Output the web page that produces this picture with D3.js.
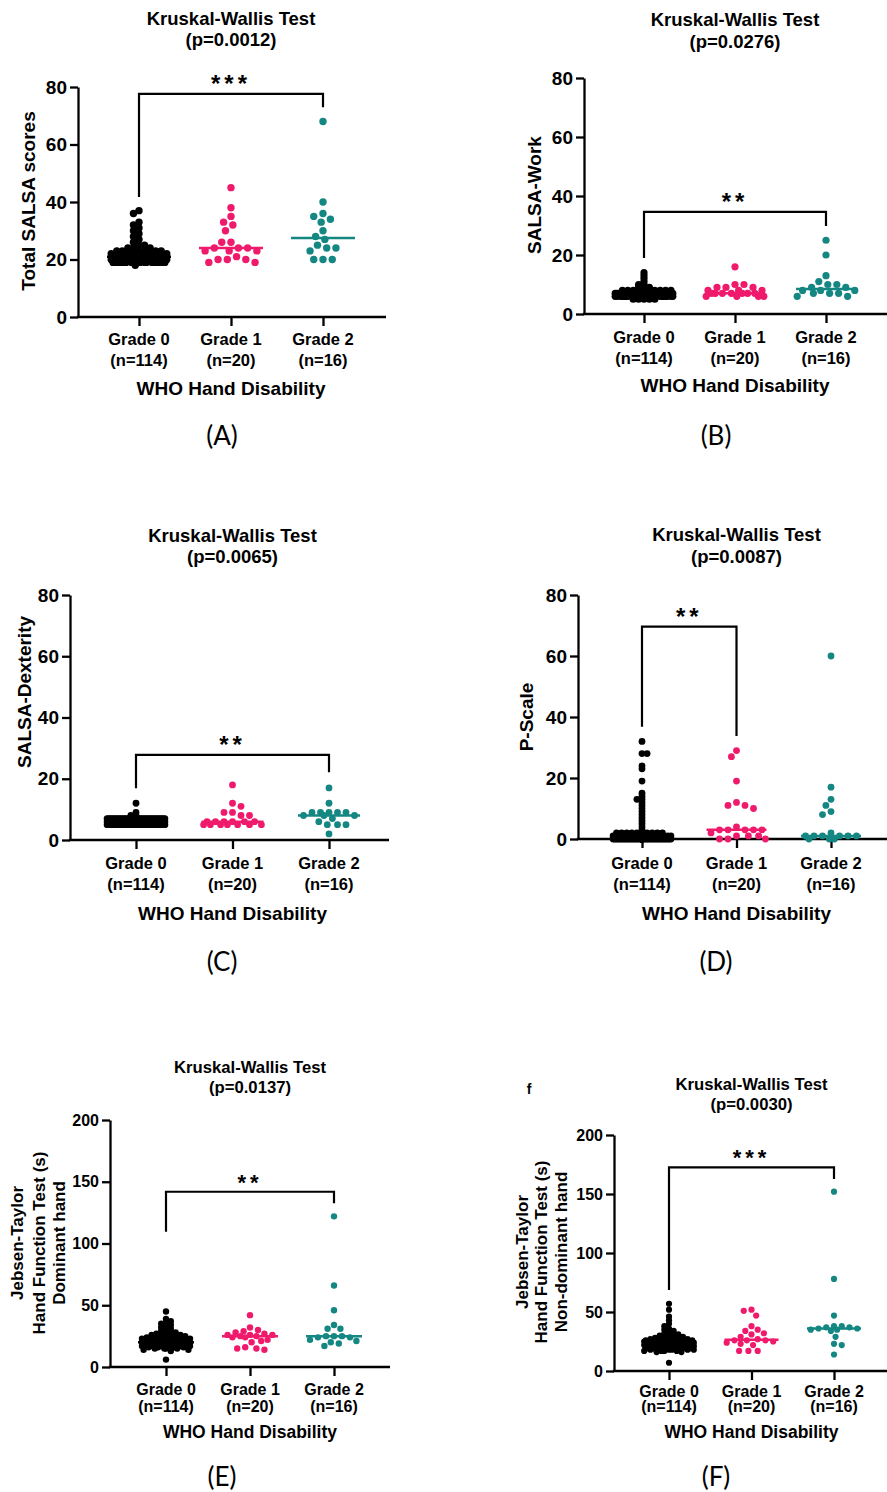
<!DOCTYPE html>
<meta charset="utf-8">

<head>
    <title>SALSA and Jebsen-Taylor scores by WHO hand disability grade</title>
    <script src="https://cdn.jsdelivr.net/npm/d3@7"></script>
    <style>
        body {
            margin: 0;
            background-color: white;
        }

        #svg {
            display: block;
            font-family: "Liberation Sans", Arial, sans-serif;
        }

        .bold {
            font-weight: bold;
        }

        .letter {
            font-family: Lato, "Open Sans", sans-serif;
        }
    </style>
</head>

<body>
    <svg id="svg" width="887" height="1492"></svg>

    <script>
        // categories shared by every panel
        const grades = ['Grade 0', 'Grade 1', 'Grade 2']
        const gradeN = ['(n=114)', '(n=20)', '(n=16)']
        const gradeColors = ['#000000', '#f01a6c', '#158782']

        const pValues = ['(p=0.0012)', '(p=0.0276)', '(p=0.0065)', '(p=0.0087)', '(p=0.0137)', '(p=0.0030)']
        const yTitles = [
            ['Total SALSA scores'],
            ['SALSA-Work'],
            ['SALSA-Dexterity'],
            ['P-Scale'],
            ['Jebsen-Taylor', 'Hand Function Test (s)', 'Dominant hand'],
            ['Jebsen-Taylor', 'Hand Function Test (s)', 'Non-dominant hand']
        ]
        const panelLetters = ['(A)', '(B)', '(C)', '(D)', '(E)', '(F)']
        const yMax = [80, 80, 80, 80, 200, 200]
        const yTicksSmall = [0, 20, 40, 60, 80]
        const yTicksLarge = [0, 50, 100, 150, 200]

        // brackets: [from group, to group, top value, left leg end, right leg end, stars]
        const bracketA = [0, 2, 77.6, 41.7, 73, '***']
        const bracketB = [0, 2, 34.6, 19, 29.8, '**']
        const bracketC = [0, 2, 27.8, 16.9, 22.1, '**']
        const bracketD = [0, 1, 69.6, 36.8, 33.8, '**']
        const bracketE = [0, 2, 141.9, 109.6, 132.6, '**']
        const bracketF = [0, 2, 172.6, 68.6, 162.7, '***']

        // (A) total SALSA scores
        const totalG0 = [37, 36, 33, 32, 31, 30, 29, 28, 27, 26, 25, 25, 24, 24, 24,
            23, 23, 23, 23, 23, 23,
            22, 22, 22, 22, 22, 22, 22, 22, 22, 22, 22, 22, 22, 22, 22,
            21, 21, 21, 21, 21, 21, 21, 21, 21, 21, 21, 21, 21, 21, 21, 21, 21, 21, 21, 21, 21, 21, 21, 21, 21, 21,
            20, 20, 20, 20, 20, 20, 20, 20, 20, 20, 20, 20, 20, 20, 20, 20, 20, 20, 20, 20, 20, 20, 20, 20, 20, 20, 20,
            19, 19, 19, 19, 19, 19, 19, 19, 19, 19, 19, 19, 19, 19, 19, 19, 19, 19, 19, 19, 19, 19, 19, 19,
            18]
        const totalG1 = [45, 38, 35, 33, 32, 30, 26, 26, 24, 24, 24, 23, 23, 23, 20, 20, 21, 20, 19, 19]
        const totalG2 = [68, 40, 36, 35, 34, 33, 30, 28, 27, 25, 24, 24, 23, 20, 20, 20]

        // (B) SALSA work
        const workG0 = [14, 13, 12, 11, 10, 10, 9, 9, 9,
            8, 8, 8, 8, 8, 8, 8, 8, 8, 8,
            7, 7, 7, 7, 7, 7, 7, 7, 7, 7, 7, 7, 7, 7, 7, 7, 7, 7, 7, 7, 7, 7, 7, 7, 7, 7, 7, 7, 7, 7, 7, 7, 7,
            7, 7, 7, 7, 7, 7, 7, 7, 7, 7, 7, 7, 7, 7, 7, 7, 7, 7, 7, 7, 7, 7, 7, 7, 7, 7, 7, 7, 7, 7, 7, 7,
            6, 6, 6, 6, 6, 6, 6, 6, 6, 6, 6, 6, 6, 6, 6, 6, 6, 6, 6, 6, 6, 6, 6, 6, 6,
            5, 5, 5, 5, 5]
        const workG1 = [16, 10, 10, 9, 9, 9, 8, 8, 8, 7, 7, 7, 7, 7, 7, 7, 6, 6, 6, 6]
        const workG2 = [25, 20, 13, 11, 10, 10, 9, 9, 8, 8, 8, 7, 7, 7, 6, 6]

        // (C) SALSA dexterity
        const dextG0 = [12, 9, 8, 8,
            7, 7, 7, 7, 7, 7, 7, 7, 7, 7, 7, 7, 7, 7, 7, 7, 7, 7, 7, 7, 7, 7, 7, 7, 7, 7, 7, 7, 7, 7, 7, 7, 7, 7, 7,
            6, 6, 6, 6, 6, 6, 6, 6, 6, 6, 6, 6, 6, 6, 6, 6, 6, 6, 6, 6, 6, 6, 6, 6, 6, 6, 6, 6, 6, 6, 6, 6, 6, 6, 6, 6, 6, 6, 6, 6,
            5, 5, 5, 5, 5, 5, 5, 5, 5, 5, 5, 5, 5, 5, 5, 5, 5, 5, 5, 5, 5, 5, 5, 5, 5, 5, 5, 5, 5, 5, 5, 5, 5, 5, 5]
        const dextG1 = [18, 12, 11, 9, 9, 8, 8, 6, 6, 6, 6, 6, 6, 5, 5, 5, 5, 5, 5, 5]
        const dextG2 = [17, 12, 9, 9, 9, 9, 9, 8, 8, 8, 7, 6, 5, 5, 5, 2]

        // (D) P-scale
        const pscaleG0 = [32, 28, 28, 24, 23, 19, 15, 14, 13, 13, 12, 11, 10, 9, 8, 7, 6, 5, 4, 3,
            2, 2, 2, 2, 2, 2, 2, 2, 2, 2,
            1, 1, 1, 1, 1, 1, 1, 1, 1, 1, 1, 1, 1, 1, 1, 1, 1, 1, 1, 1, 1, 1, 1, 1, 1, 1, 1, 1, 1, 1,
            0, 0, 0, 0, 0, 0, 0, 0, 0, 0, 0, 0, 0, 0, 0, 0, 0, 0, 0, 0, 0, 0, 0, 0, 0, 0, 0,
            0, 0, 0, 0, 0, 0, 0, 0, 0, 0, 0, 0, 0, 0, 0, 0, 0, 0, 0, 0, 0, 0, 0, 0, 0, 0, 0]
        const pscaleG1 = [29, 27, 19, 12, 11, 11, 10, 4, 3, 3, 3, 3, 3, 2, 1, 1, 1, 0, 0, 0]
        const pscaleG2 = [60, 17, 13, 11, 9, 8, 2, 1, 1, 1, 1, 1, 1, 0, 0, 0]

        // (E) Jebsen-Taylor dominant hand
        const domG0 = [45, 39, 37, 36, 35, 34, 33, 32, 31, 30, 29, 28, 28, 27, 27, 26, 26, 26, 25, 25, 25, 24, 24, 24,
            23, 23, 23, 23, 23,
            22, 22, 22, 22, 22, 22, 22, 22,
            21, 21, 21, 21, 21, 21, 21, 21, 21, 21, 21, 21,
            20, 20, 20, 20, 20, 20, 20, 20, 20, 20, 20, 20, 20, 20,
            19, 19, 19, 19, 19, 19, 19, 19, 19, 19, 19, 19, 19, 19,
            18, 18, 18, 18, 18, 18, 18, 18, 18, 18, 18, 18, 18,
            17, 17, 17, 17, 17, 17, 17, 17, 17, 17,
            16, 16, 16, 16, 16, 16, 15, 15, 15, 15, 14, 14, 13, 6]
        const domG1 = [42, 32, 30, 29, 28, 27, 26, 26, 26, 25, 25, 24, 24, 22, 21, 20, 16, 15, 15, 14]
        const domG2 = [122, 66, 46, 34, 31, 31, 25, 25, 25, 24, 24, 22, 21, 20, 19, 17]

        // (F) Jebsen-Taylor non-dominant hand
        const nondomG0 = [57, 52, 46, 43, 40, 38, 36, 35, 34, 33, 32, 31, 31, 30, 30, 29, 29, 28, 28, 28,
            27, 27, 27, 27, 26, 26, 26, 26, 26, 26,
            25, 25, 25, 25, 25, 25, 25, 25, 25, 25,
            24, 24, 24, 24, 24, 24, 24, 24, 24, 24, 24, 24,
            23, 23, 23, 23, 23, 23, 23, 23, 23, 23, 23, 23,
            22, 22, 22, 22, 22, 22, 22, 22, 22, 22, 22, 22,
            21, 21, 21, 21, 21, 21, 21, 21, 21, 21,
            20, 20, 20, 20, 20, 20, 20, 20, 20,
            19, 19, 19, 19, 19, 19, 19,
            18, 18, 18, 18, 18, 17, 17, 17, 17, 16, 16, 7]
        const nondomG1 = [52, 51, 47, 38, 35, 34, 32, 31, 29, 27, 26, 26, 26, 25, 24, 23, 22, 17, 17, 17]
        const nondomG2 = [152, 78, 47, 38, 38, 37, 37, 36, 36, 35, 35, 34, 29, 23, 22, 14]

        const panelData = [
            [totalG0, totalG1, totalG2],
            [workG0, workG1, workG2],
            [dextG0, dextG1, dextG2],
            [pscaleG0, pscaleG1, pscaleG2],
            [domG0, domG1, domG2],
            [nondomG0, nondomG1, nondomG2]
        ]
        const brackets = [bracketA, bracketB, bracketC, bracketD, bracketE, bracketF]

        // where each panel sits on the page
        const big = { title: 18.5, tick: 19, cat: 16.5, who: 19, ytitle: 19, star: 24 }
        const small = { title: 16.7, tick: 16, cat: 16, who: 17.5, ytitle: 17, star: 22 }
        const layout = [
            { ax: 78, yTop: 87, y0: 317, xEnd: 386, cats: [139, 323], r: 3.7, half: 28, mh: 32, fs: big,
              titleY: [25, 46], catY: [345, 366], whoY: 395, yTitleX: [28], yTitleY: 201, letter: [222, 445] },
            { ax: 584, yTop: 78, y0: 314, xEnd: 887, cats: [644, 826], r: 3.6, half: 29, mh: 30, fs: big,
              titleY: [26, 48], catY: [343, 364], whoY: 392, yTitleX: [534], yTitleY: 195, letter: [716, 445] },
            { ax: 70, yTop: 595, y0: 840, xEnd: 389, cats: [136, 329], r: 3.4, half: 30, mh: 31, fs: big,
              titleY: [542, 563], catY: [869, 890], whoY: 920, yTitleX: [24], yTitleY: 692, letter: [222, 971] },
            { ax: 578, yTop: 595, y0: 839, xEnd: 887, cats: [642, 831], r: 3.4, half: 30, mh: 30, fs: big,
              titleY: [541, 563], catY: [869, 890], whoY: 920, yTitleX: [526], yTitleY: 717, letter: [716, 971] },
            { ax: 110, yTop: 1120, y0: 1367, xEnd: 390, cats: [166, 334], r: 3.2, half: 24, mh: 28, fs: small,
              titleY: [1073, 1093], catY: [1395, 1412], whoY: 1438, yTitleX: [17, 39, 59], yTitleY: 1243, letter: [222, 1486] },
            { ax: 614, yTop: 1135, y0: 1371, xEnd: 887, cats: [669, 834], r: 3.1, half: 25, mh: 27, fs: small,
              titleY: [1090, 1110], catY: [1397, 1412], whoY: 1438, yTitleX: [522, 541, 561], yTitleY: 1252, letter: [716, 1486] }
        ]

        let svg = d3.select('#svg')

        // prism-like scatter: put each point at the nearest free spot to the centre,
        // and once the row is full just spread them out where they overlap least.
        // big groups only look sideways inside a thin row so they can stack in a column
        function swarm(values, y, r, half) {
            let pts = values.map((v) => ({ v: v, y: y(v) })).sort((a, b) => a.y - b.y)
            let dense = values.length > 40
            let step = r * 0.5
            let minD = dense ? 2 * r * 0.7 : 2 * r * 1.15
            let rowH = 2 * r * 0.4
            let offsets = [0]
            for (let k = 1; k * step <= half; k++) {
                offsets.push(k * step, -k * step)
            }
            let placed = []
            pts.forEach((p, i) => {
                let best = 0
                let bestScore = -Infinity
                for (let o of offsets) {
                    let dx = i % 2 ? -o : o
                    let dmin = Infinity
                    placed.forEach((q) => {
                        let d
                        if (dense) {
                            d = Math.abs(q.y - p.y) < rowH ? Math.abs(q.dx - dx) : Infinity
                        } else {
                            d = Math.hypot(q.dx - dx, q.y - p.y)
                        }
                        if (d < dmin) dmin = d
                    })
                    if (dmin >= minD) {
                        best = dx
                        break
                    }
                    if (dmin > bestScore) {
                        bestScore = dmin
                        best = dx
                    }
                }
                p.dx = best
                placed.push(p)
            })
            return pts
        }

        function drawPanel(i) {
            let L = layout[i]
            let fs = L.fs
            let g = svg.append('g').attr('class', 'panel')

            let x = d3.scalePoint().domain(grades).range(L.cats)
            let y = d3.scaleLinear().domain([0, yMax[i]]).range([L.y0, L.yTop])
            let ticks = yMax[i] == 80 ? yTicksSmall : yTicksLarge

            // y axis
            let yAxis = d3.axisLeft(y).tickValues(ticks).tickSize(8).tickPadding(3).tickSizeOuter(0)
            let ya = g.append('g')
                .attr('transform', 'translate(' + L.ax + ',0)')
                .call(yAxis)
            ya.select('.domain').attr('stroke-width', 2.3)
            ya.selectAll('.tick line').attr('stroke-width', 2.3)
            ya.selectAll('.tick text')
                .attr('class', 'bold')
                .style('font-size', fs.tick + 'px')
                .style('font-family', '"Liberation Sans", Arial, sans-serif')
                .attr('fill', '#000')

            // x axis: baseline from the y axis to the end, ticks at the categories
            let xAxis = d3.axisBottom(x).tickSize(9).tickFormat('')
            let xa = g.append('g')
                .attr('transform', 'translate(0,' + L.y0 + ')')
                .call(xAxis)
            xa.select('.domain').remove()
            xa.selectAll('.tick line').attr('stroke-width', 2.3)
            g.append('line')
                .attr('x1', L.ax - 1.15).attr('x2', L.xEnd)
                .attr('y1', L.y0).attr('y2', L.y0)
                .attr('stroke', '#000').attr('stroke-width', 2.3)

            // category labels
            grades.forEach((name, k) => {
                g.append('text').attr('class', 'bold')
                    .attr('x', x(name)).attr('y', L.catY[0])
                    .attr('text-anchor', 'middle').style('font-size', fs.cat + 'px')
                    .text(name)
                g.append('text').attr('class', 'bold')
                    .attr('x', x(name)).attr('y', L.catY[1])
                    .attr('text-anchor', 'middle').style('font-size', fs.cat + 'px')
                    .text(gradeN[k])
            })
            g.append('text').attr('class', 'bold')
                .attr('x', x(grades[1])).attr('y', L.whoY)
                .attr('text-anchor', 'middle').style('font-size', fs.who + 'px')
                .text('WHO Hand Disability')

            // title
            g.append('text').attr('class', 'bold')
                .attr('x', x(grades[1])).attr('y', L.titleY[0])
                .attr('text-anchor', 'middle').style('font-size', fs.title + 'px')
                .text('Kruskal-Wallis Test')
            g.append('text').attr('class', 'bold')
                .attr('x', x(grades[1])).attr('y', L.titleY[1])
                .attr('text-anchor', 'middle').style('font-size', fs.title + 'px')
                .text(pValues[i])

            // y title, one rotated text per line
            yTitles[i].forEach((line, k) => {
                g.append('text').attr('class', 'bold')
                    .attr('transform', 'translate(' + L.yTitleX[k] + ',' + L.yTitleY + ') rotate(-90)')
                    .attr('text-anchor', 'middle').attr('dy', '0.35em')
                    .style('font-size', fs.ytitle + 'px')
                    .text(line)
            })

            // points and medians
            panelData[i].forEach((vals, k) => {
                let cx = x(grades[k])
                let pts = swarm(vals, y, L.r, L.half)
                g.append('g').selectAll('circle')
                    .data(pts)
                    .enter()
                    .append('circle')
                    .attr('cx', (d) => cx + d.dx)
                    .attr('cy', (d) => d.y)
                    .attr('r', L.r)
                    .attr('fill', gradeColors[k])
                let med = d3.median(vals)
                g.append('line')
                    .attr('x1', cx - L.mh).attr('x2', cx + L.mh)
                    .attr('y1', y(med)).attr('y2', y(med))
                    .attr('stroke', gradeColors[k]).attr('stroke-width', 2.5)
            })

            // significance bracket
            let b = brackets[i]
            let bx0 = x(grades[b[0]])
            let bx1 = x(grades[b[1]])
            let path = d3.path()
            path.moveTo(bx0, y(b[3]))
            path.lineTo(bx0, y(b[2]))
            path.lineTo(bx1, y(b[2]))
            path.lineTo(bx1, y(b[4]))
            g.append('path')
                .attr('d', path.toString())
                .attr('fill', 'none').attr('stroke', '#000').attr('stroke-width', 2.2)
            g.append('text').attr('class', 'bold')
                .attr('x', (bx0 + bx1) / 2).attr('y', y(b[2]) - 2)
                .attr('text-anchor', 'middle')
                .style('font-size', fs.star + 'px').style('letter-spacing', '4px')
                .text(b[5])

            // panel letter
            svg.append('text').attr('class', 'letter')
                .attr('x', L.letter[0]).attr('y', L.letter[1])
                .attr('text-anchor', 'middle').style('font-size', '26px')
                .text(panelLetters[i])
        }

        for (let i = 0; i < 6; i++) {
            drawPanel(i)
        }

        // stray panel mark on the last figure
        svg.append('text').attr('class', 'bold')
            .attr('x', 529).attr('y', 1094)
            .attr('text-anchor', 'middle').style('font-size', '14px')
            .text('f')
    </script>

</body>

</html>
